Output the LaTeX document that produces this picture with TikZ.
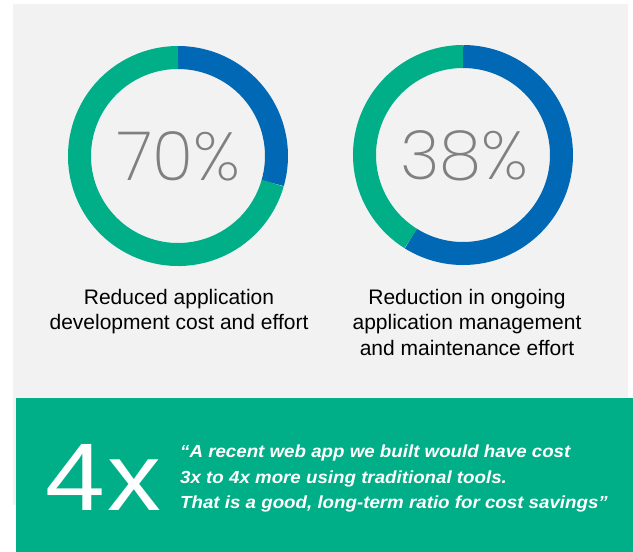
\documentclass[tikz,border=0pt]{standalone}
\usepackage{fontspec}
\setmainfont{Liberation Sans}
\newfontfamily\pctfont{Poppins ExtraLight}
\newfontfamily\bigfont{Liberation Sans}[FakeStretch=1.12]
\newfontfamily\quotefont{Liberation Sans Bold Italic}[FakeStretch=1.07,Ligatures=TeX]

\definecolor{bggray}{RGB}{242,242,242}
\definecolor{ringgreen}{RGB}{0,175,135}
\definecolor{ringblue}{RGB}{0,104,180}
\definecolor{pctgray}{RGB}{128,128,128}

\begin{document}
\begin{tikzpicture}[x=1pt,y=1pt,
    ring/.style={line width=23pt},
    pct/.style={font=\pctfont\fontsize{68}{68}\selectfont, text=pctgray, inner sep=0pt},
    caption/.style={font=\fontsize{21}{25.5}\selectfont, align=center, inner sep=0pt},
    big/.style={font=\bigfont\fontsize{96}{96}\selectfont, text=white, inner sep=0pt},
    quote/.style={font=\quotefont\fontsize{17.5}{25.5}\selectfont, text=white, align=left, inner sep=0pt}]
    \useasboundingbox (0,0) rectangle (633,-552);
    \fill[bggray](13,-4) rectangle (628,-505);
    \fill[ringgreen](16,-398) rectangle (633,-552);

    \coordinate (c1) at (178,-156);
    \coordinate (c2) at (463,-155);

    \draw[ring,ringblue](c1) ++(90:98.5) arc[start angle=90,end angle=-16,radius=98.5];
    \draw[ring,ringgreen](c1) ++(-16:98.5) arc[start angle=-16,end angle=-270,radius=98.5];
    \draw[ring,ringblue](c2) ++(90:98.5) arc[start angle=90,end angle=-122,radius=98.5];
    \draw[ring,ringgreen](c2) ++(-122:98.5) arc[start angle=-122,end angle=-270,radius=98.5];

    \node[pct] (p1) at (178.5,-156) {70\%};
    \node[pct] (p2) at (464.5,-156) {38\%};

    \node[caption,anchor=base] (cap1) at (179,-329.5) {Reduced application\\development cost and effort};
    \node[caption,anchor=base] (cap2) at (467,-355) {Reduction in ongoing\\application management\\and maintenance effort};

    \node[big,anchor=base west] (four) at (45,-510) {4\hspace{3pt}x};
    \node[quote,anchor=base west] (quote) at (180,-508.5) {“A recent web app we built would have cost\\3x to 4x more using traditional tools.\\That is a good, long-term ratio for cost savings”};
\end{tikzpicture}
\end{document}
